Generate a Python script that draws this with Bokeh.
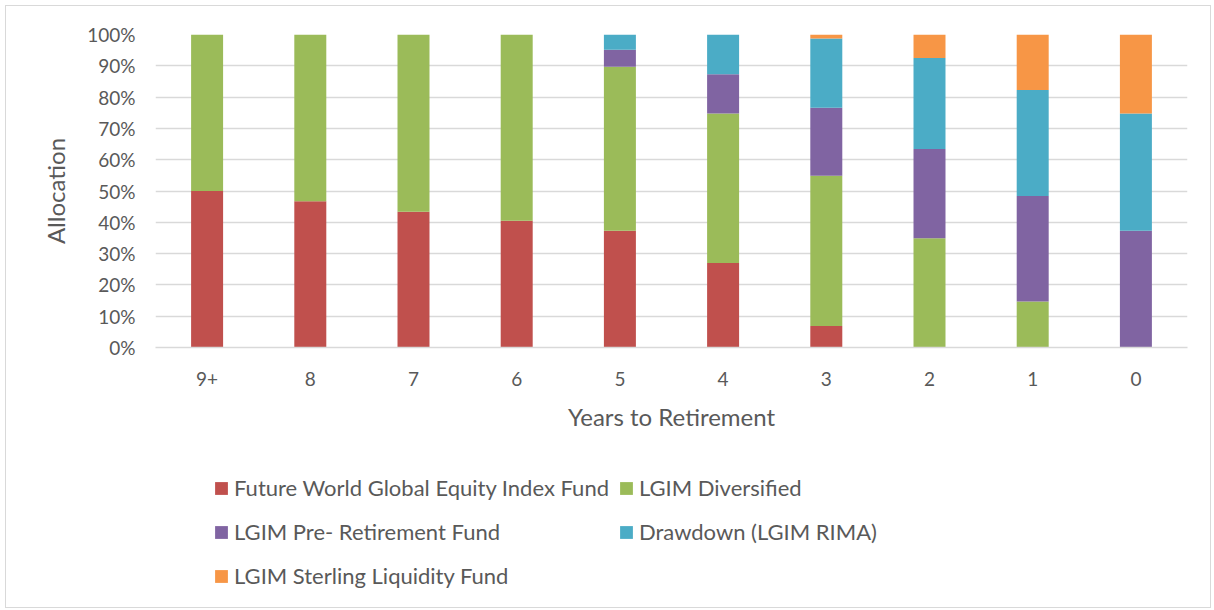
from bokeh.plotting import figure
from bokeh.layouts import column
from bokeh.models import FactorRange, Range1d, FixedTicker, PrintfTickFormatter, Legend, LegendItem
from bokeh.embed import file_html
from bokeh.resources import INLINE

categories = ["9+", "8", "7", "6", "5", "4", "3", "2", "1", "0"]
series_names = [
    "Future World Global Equity Index Fund",
    "LGIM Diversified",
    "LGIM Pre- Retirement Fund",
    "Drawdown (LGIM RIMA)",
    "LGIM Sterling Liquidity Fund",
]
equity = [50.0, 46.7, 43.4, 40.5, 37.3, 27.0, 6.9, 0.0, 0.0, 0.0]
diversified = [50.0, 53.3, 56.6, 59.5, 52.4, 47.8, 48.0, 34.9, 14.7, 0.0]
pre_retirement = [0.0, 0.0, 0.0, 0.0, 5.4, 12.5, 21.7, 28.5, 33.7, 37.3]
drawdown = [0.0, 0.0, 0.0, 0.0, 4.9, 12.7, 22.1, 29.1, 33.9, 37.5]
liquidity = [0.0, 0.0, 0.0, 0.0, 0.0, 0.0, 1.3, 7.5, 17.7, 25.2]
y_ticks = [0, 10, 20, 30, 40, 50, 60, 70, 80, 90, 100]

colors = ["#C0504D", "#9BBB59", "#8064A2", "#4BACC6", "#F79646"]
keys = ["equity", "diversified", "pre_retirement", "drawdown", "liquidity"]
source = dict(cat=categories, equity=equity, diversified=diversified,
              pre_retirement=pre_retirement, drawdown=drawdown, liquidity=liquidity)

FONT = "Lato"
TXT = "#595959"
GRID = "#D9D9D9"

# ---- main chart ----
p = figure(width=1204, height=431,
           x_range=FactorRange(*categories, range_padding=0),
           y_range=Range1d(0, 100), output_backend="svg", toolbar_location=None,
           min_border_left=149, min_border_right=23, min_border_top=28, min_border_bottom=90)

p.vbar_stack(keys, x="cat", width=0.31, color=colors, line_color=None, source=source)

p.outline_line_color = None
p.background_fill_color = "white"
p.border_fill_color = "white"

p.xgrid.grid_line_color = None
p.ygrid.grid_line_color = GRID
p.ygrid.grid_line_width = 1.5

p.yaxis.ticker = FixedTicker(ticks=y_ticks)
p.yaxis.formatter = PrintfTickFormatter(format="%d%%")
p.yaxis.axis_line_color = None
p.yaxis.major_tick_line_color = None
p.yaxis.minor_tick_line_color = None
p.yaxis.major_label_standoff = 14
p.yaxis.axis_label = "Allocation"
p.yaxis.axis_label_standoff = 14

p.xaxis.axis_line_color = GRID
p.xaxis.axis_line_width = 1.5
p.xaxis.major_tick_line_color = None
p.xaxis.minor_tick_line_color = None
p.xaxis.major_label_standoff = 18
p.xaxis.axis_label = "Years to Retirement"
p.xaxis.axis_label_standoff = 13

for ax in (p.xaxis[0], p.yaxis[0]):
    ax.major_label_text_font = FONT
    ax.major_label_text_font_size = "19px"
    ax.major_label_text_color = TXT
    ax.axis_label_text_font = FONT
    ax.axis_label_text_font_size = "24px"
    ax.axis_label_text_font_style = "normal"
    ax.axis_label_text_color = TXT

# ---- legend strip (same series, kept outside its visible range; only the legend shows) ----
p2 = figure(width=1204, height=170,
            x_range=FactorRange(*categories, range_padding=0),
            y_range=Range1d(200, 300), output_backend="svg", toolbar_location=None,
            x_axis_location=None, y_axis_location=None,
            min_border_left=0, min_border_right=0, min_border_top=0, min_border_bottom=0)
legend_renderers = p2.vbar_stack(keys, x="cat", width=0.31, color=colors, line_color=None, source=source)
p2.outline_line_color = None
p2.grid.visible = False
p2.background_fill_color = "white"
p2.border_fill_color = "white"

items = [LegendItem(label=n, renderers=[r]) for n, r in zip(series_names, legend_renderers)]
legend = Legend(items=items, location=(58, 14), orientation="horizontal", ncols=2,
                padding=0, margin=0, spacing=9, label_height=35, glyph_height=16, glyph_width=16,
                label_standoff=5, border_line_color=None, background_fill_alpha=0,
                label_text_font=FONT, label_text_font_size="22px", label_text_color=TXT)
p2.add_layout(legend, "center")

layout = column(p, p2, spacing=0, styles={"margin": "5px", "border": "1px solid #D9D9D9"})

open("out.html", "w").write(file_html(layout, INLINE))
